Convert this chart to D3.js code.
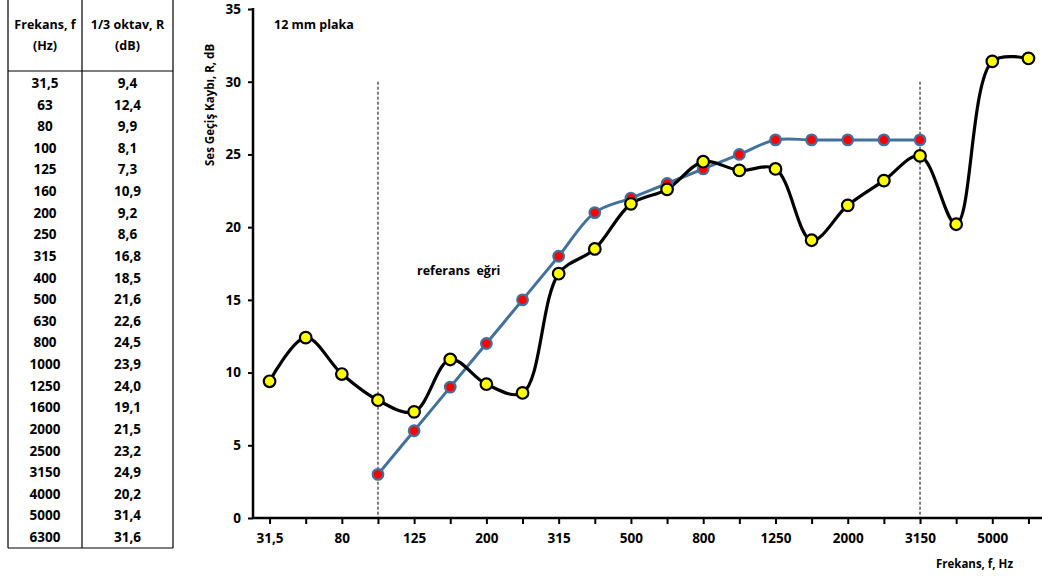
<!DOCTYPE html>
<html>
<head>
<meta charset="utf-8">
<script src="https://cdn.jsdelivr.net/npm/d3@7"></script>
<style>
  body { margin: 0; background: #fff; }
  svg text { font-family: "Open Sans", sans-serif; font-weight: 700; fill: #000; }
</style>
</head>
<body>
<div id="chart"></div>
<script>
const freqLabels = ["31,5", "63", "80", "100", "125", "160", "200", "250", "315", "400", "500",
  "630", "800", "1000", "1250", "1600", "2000", "2500", "3150", "4000", "5000", "6300"];
const measured = [9.4, 12.4, 9.9, 8.1, 7.3, 10.9, 9.2, 8.6, 16.8, 18.5, 21.6,
  22.6, 24.5, 23.9, 24.0, 19.1, 21.5, 23.2, 24.9, 20.2, 31.4, 31.6];
const refFreqs = ["100", "125", "160", "200", "250", "315", "400", "500", "630",
  "800", "1000", "1250", "1600", "2000", "2500", "3150"];
const refValues = [3, 6, 9, 12, 15, 18, 21, 22, 23, 24, 25, 26, 26, 26, 26, 26];
const yTicks = [0, 5, 10, 15, 20, 25, 30, 35];
const markerFreqs = ["100", "3150"];

const width = 1042, height = 580;
const svg = d3.select("#chart").append("svg")
  .attr("width", width).attr("height", height);

// ---- table on the left ----
const tbl = svg.append("g");
const colX = [8, 82, 173];
const headBottom = 71, rowTop = 83, rowH = 21.62, tblBottom = 548;
tbl.selectAll("line.v").data(colX).join("line")
  .attr("x1", d => d).attr("x2", d => d).attr("y1", 0).attr("y2", tblBottom)
  .attr("stroke", "#000").attr("stroke-width", 1.2);
tbl.selectAll("line.h").data([headBottom, tblBottom]).join("line")
  .attr("x1", colX[0]).attr("x2", colX[2]).attr("y1", d => d).attr("y2", d => d)
  .attr("stroke", "#000").attr("stroke-width", 1.2);
const head = [["Frekans, f", "(Hz)"], ["1/3 oktav, R", "(dB)"]];
head.forEach((lines, i) => {
  const cx = (colX[i] + colX[i + 1]) / 2;
  lines.forEach((t, j) => {
    tbl.append("text").attr("x", cx).attr("y", 29 + j * 21)
      .attr("text-anchor", "middle").attr("font-size", 12.5).text(t);
  });
});
freqLabels.forEach((f, i) => {
  const y = rowTop + i * rowH + 5;
  tbl.append("text").attr("x", (colX[0] + colX[1]) / 2).attr("y", y)
    .attr("text-anchor", "middle").attr("font-size", 13.5).text(f);
  tbl.append("text").attr("x", (colX[1] + colX[2]) / 2).attr("y", y)
    .attr("text-anchor", "middle").attr("font-size", 13.5)
    .text(measured[i].toFixed(1).replace(".", ","));
});

// ---- chart ----
const x = d3.scalePoint().domain(freqLabels).range([251.5, 1046.5]).padding(0.5);
const y = d3.scaleLinear().domain([0, 35]).range([518, 9]);

// dashed markers
svg.append("g").selectAll("line").data(markerFreqs).join("line")
  .attr("x1", d => x(d)).attr("x2", d => x(d))
  .attr("y1", y(30)).attr("y2", y(0))
  .attr("stroke", "#000").attr("stroke-width", 1).attr("stroke-dasharray", "3,2");

// axes
const yAxis = svg.append("g").attr("transform", "translate(253,0)")
  .call(d3.axisLeft(y).tickValues(yTicks).tickSize(5).tickPadding(7));
const xAxis = svg.append("g").attr("transform", `translate(0,${y(0)})`)
  .call(d3.axisBottom(x).tickSize(6).tickPadding(9)
    .tickFormat((d, i) => i % 2 === 0 ? d : ""));
[yAxis, xAxis].forEach(a => {
  a.select(".domain").attr("stroke-width", 2.5);
  a.selectAll(".tick line").attr("stroke-width", 2);
  a.selectAll("text").attr("font-size", 13.5).attr("font-family", "'Open Sans', sans-serif")
    .attr("font-weight", 700);
});
xAxis.select(".domain").attr("d", `M253,0H${width}`);
yAxis.select(".domain").attr("d", "M0,518V8");

// reference curve
const refData = refFreqs.map((f, i) => ({ f, v: refValues[i] }));
const line = d3.line().x(d => x(d.f)).y(d => y(d.v)).curve(d3.curveCatmullRom.alpha(0.5));
svg.append("path").datum(refData).attr("d", line)
  .attr("fill", "none").attr("stroke", "#41719c").attr("stroke-width", 3);

// measured curve
const mData = freqLabels.map((f, i) => ({ f, v: measured[i] }));
svg.append("path").datum(mData).attr("d", line)
  .attr("fill", "none").attr("stroke", "#000").attr("stroke-width", 3.2);

svg.append("g").selectAll("circle").data(refData).join("circle")
  .attr("cx", d => x(d.f)).attr("cy", d => y(d.v)).attr("r", 5.3)
  .attr("fill", "#ff0000").attr("stroke", "#41719c").attr("stroke-width", 2.2);

svg.append("g").selectAll("circle").data(mData).join("circle")
  .attr("cx", d => x(d.f)).attr("cy", d => y(d.v)).attr("r", 5.8)
  .attr("fill", "#ffff00").attr("stroke", "#000").attr("stroke-width", 2.2);

// labels
svg.append("text").attr("x", 274).attr("y", 29).attr("font-size", 12.5).text("12 mm plaka");
svg.append("text").attr("x", 417).attr("y", 275).attr("font-size", 12.5)
  .attr("xml:space", "preserve").text("referans  eğri");
svg.append("text").attr("transform", "translate(214,166) rotate(-90)")
  .attr("font-size", 11.5).text("Ses Geçiş Kaybı, R, dB");
svg.append("text").attr("x", 1013).attr("y", 568).attr("text-anchor", "end")
  .attr("font-size", 11.5).text("Frekans, f, Hz");
</script>
</body>
</html>
